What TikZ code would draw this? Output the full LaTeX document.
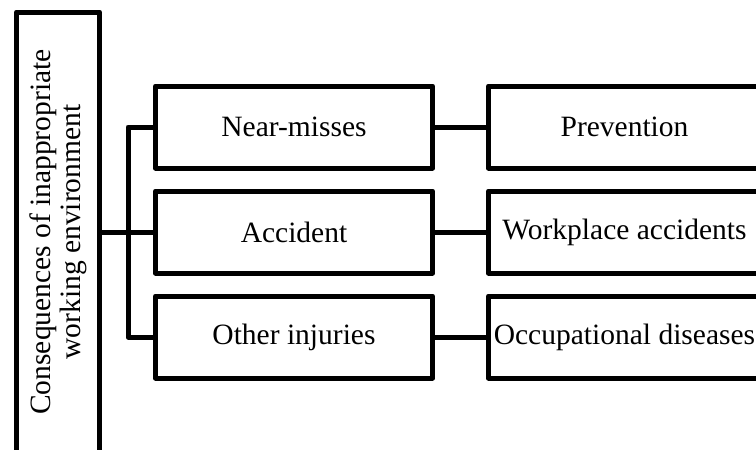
\documentclass[tikz,border=0pt]{standalone}
\usepackage{fontspec}
\setmainfont{Liberation Serif}
\usetikzlibrary{positioning}
\definecolor{LineBlack}{RGB}{0, 0, 0}

\begin{document}
\begin{tikzpicture}[x=1pt, y=-1pt,
    box/.style={draw=LineBlack, line width=5pt, line join=round, outer sep=0pt,
      inner sep=0pt, minimum height=82pt, font=\fontsize{29.5}{30}\selectfont},
    midbox/.style={box, minimum width=277pt},
    endbox/.style={box, minimum width=272pt},
    link/.style={draw=LineBlack, line width=5pt, line join=round}]
    % Frame of the picture
    \useasboundingbox (0,0) rectangle (756,450);
    \clip (0,0) rectangle (756,450);

    % Main box (turned on its side)
    \node[box, rotate=90, align=center, minimum width=440pt, minimum height=83pt]
      (cause) at (58,232) {Consequences of inappropriate\\working environment};

    % Middle column
    \node[midbox] (near) at (294,127) {Near-misses};
    \node[midbox, below=23pt of near] (acc) {Accident};
    \node[midbox, below=23pt of acc] (other) {Other injuries};

    % Right column
    \node[endbox, right=56pt of near] (prev) {Prevention};
    \node[endbox, right=56pt of acc] (work) {Workplace accidents};
    \node[endbox, right=56pt of other] (occ) {Occupational diseases};

    % Connectors
    \coordinate (bus) at (128,232);
    \draw[link] (cause.south) -- (acc.west);
    \draw[link] (near.west) -| (bus) |- (other.west);
    \foreach \a/\b in {near/prev, acc/work, other/occ} {
      \draw[link] (\a.east) -- (\b.west);
    }
\end{tikzpicture}
\end{document}
